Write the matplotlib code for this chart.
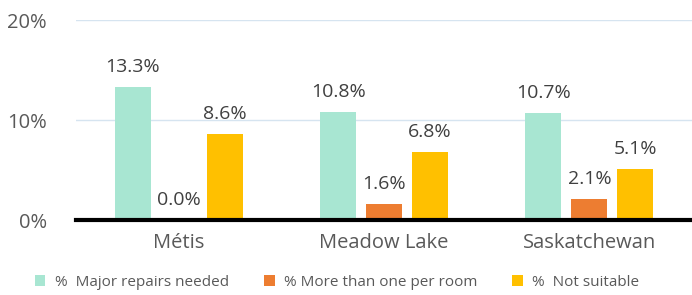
import matplotlib.pyplot as plt
import numpy as np

categories = ['Métis', 'Meadow Lake', 'Saskatchewan']
series_names = ['%  Major repairs needed', '% More than one per room', '%  Not suitable']
major_repairs = [13.3, 10.8, 10.7]
more_than_one = [0.0, 1.6, 2.1]
not_suitable = [8.6, 6.8, 5.1]
colors = ['#A8E6D2', '#ED7D31', '#FFC000']

plt.rcParams['font.family'] = ['Open Sans', 'DejaVu Sans']
text_color = '#595959'

fig = plt.figure(figsize=(6.92, 2.95), dpi=100)
ax = fig.add_axes([0.11, 0.254, 0.89, 0.678])

x = np.arange(len(categories))
bar_width = 0.175
offset = 0.224
all_series = [major_repairs, more_than_one, not_suitable]

for i, values in enumerate(all_series):
    pos = x + (i - 1) * offset
    ax.bar(pos, values, width=bar_width, color=colors[i], label=series_names[i], zorder=2)
    for px, v in zip(pos, values):
        ax.text(px, v + 1.1, f'{v:.1f}%', ha='center', va='bottom',
                fontsize=14, color='#404040')

ax.set_xlim(-0.5, 2.5)
ax.set_ylim(0, 20)
ax.set_yticks([0, 10, 20])
ax.set_yticklabels(['0%', '10%', '20%'])
ax.set_xticks(x)
ax.set_xticklabels(categories)
ax.tick_params(axis='both', length=0, labelsize=14.5, colors=text_color)
ax.tick_params(axis='x', pad=9)
ax.tick_params(axis='y', pad=21)

ax.grid(axis='y', color='#D6E4F0', linewidth=1, zorder=0)
for s in ['top', 'right', 'left']:
    ax.spines[s].set_visible(False)
ax.spines['bottom'].set_color('black')
ax.spines['bottom'].set_linewidth(3)
ax.spines['bottom'].set_zorder(3)

fig.legend(loc='lower center', bbox_to_anchor=(0.487, -0.03), ncol=3, frameon=False,
           fontsize=11, labelcolor=text_color, handlelength=0.7, handleheight=0.7,
           columnspacing=2.3, handletextpad=0.6)

plt.savefig('out.png', dpi=100)
